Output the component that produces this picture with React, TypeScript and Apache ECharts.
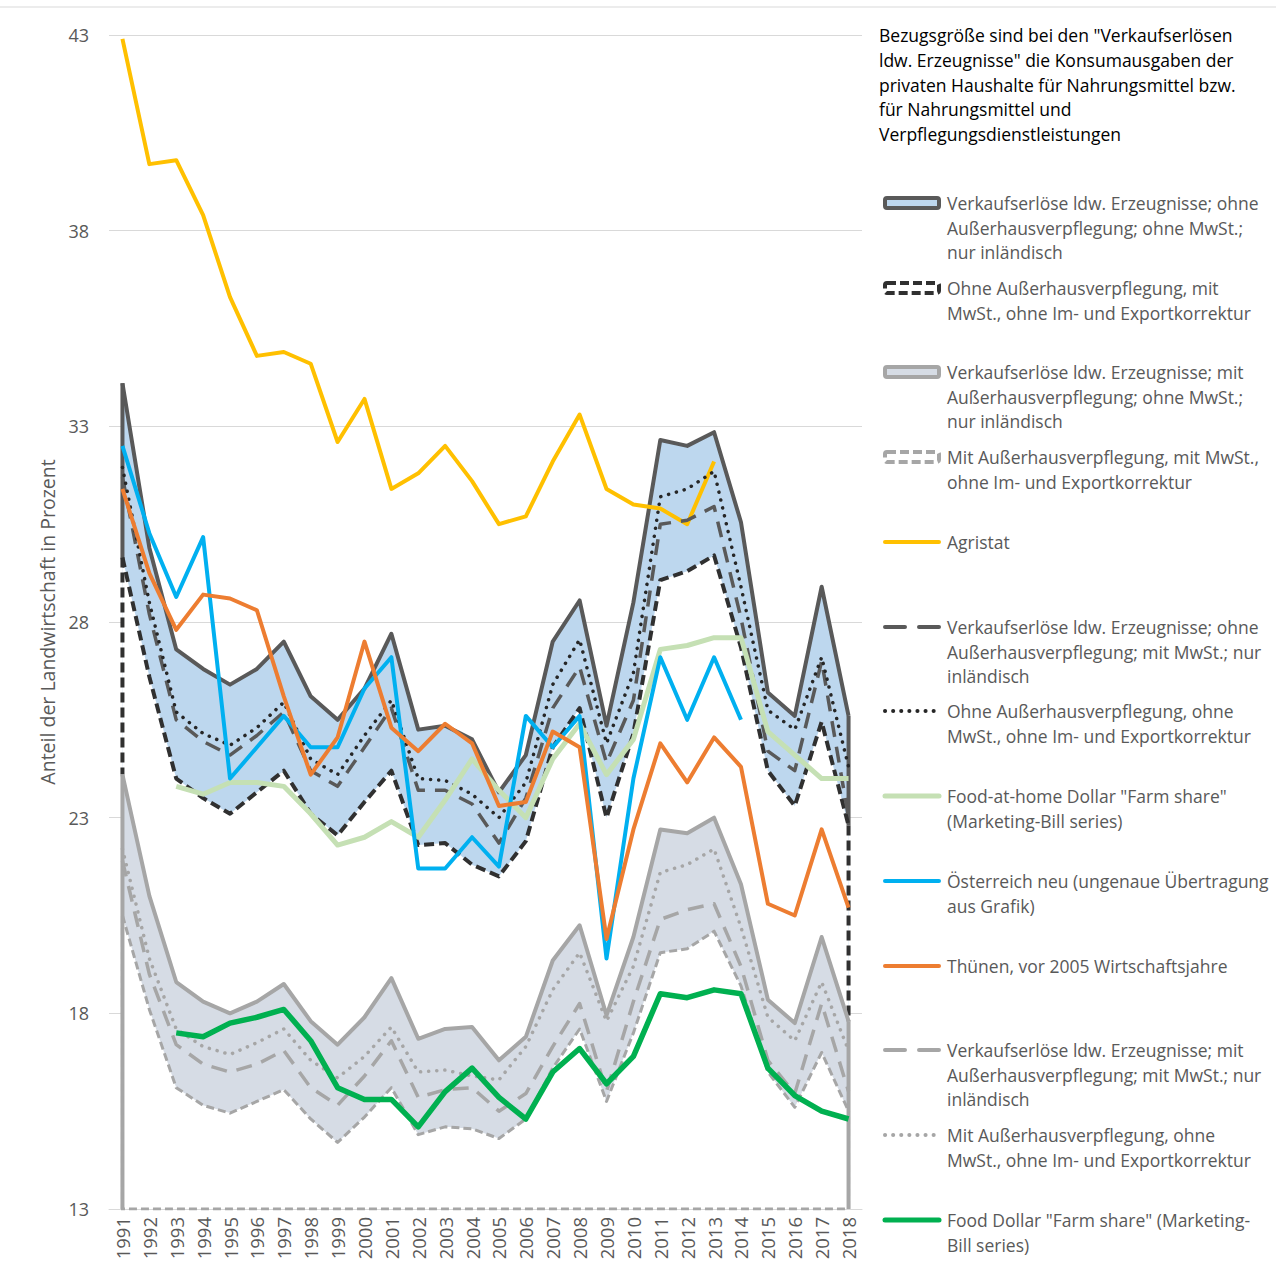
import React, { useEffect, useRef } from "react";
import * as echarts from "echarts";

const years = ["1991","1992","1993","1994","1995","1996","1997","1998","1999","2000","2001","2002","2003","2004","2005","2006","2007","2008","2009","2010","2011","2012","2013","2014","2015","2016","2017","2018"];

const yTicks = { min: 13, max: 43, step: 5 };

const darkTop = [34.1, 29.9, 27.3, 26.8, 26.4, 26.8, 27.5, 26.1, 25.5, 26.3, 27.7, 25.25, 25.35, 25.0, 23.65, 24.6, 27.5, 28.55, 25.35, 28.5, 32.65, 32.5, 32.85, 30.55, 26.2, 25.6, 28.9, 25.6];
const darkBottom = [29.65, 26.6, 24.0, 23.5, 23.1, 23.65, 24.2, 23.1, 22.55, 23.4, 24.2, 22.3, 22.35, 21.8, 21.5, 22.4, 24.8, 25.8, 23.0, 25.15, 29.07, 29.3, 29.7, 27.35, 24.2, 23.3, 25.45, 22.8];
const grayTop = [24.1, 21.0, 18.8, 18.3, 18.0, 18.3, 18.75, 17.8, 17.2, 17.9, 18.9, 17.35, 17.6, 17.65, 16.8, 17.4, 19.35, 20.25, 17.95, 19.95, 22.7, 22.6, 23.0, 21.3, 18.35, 17.75, 19.95, 17.8];
const grayBottom = [20.5, 18.1, 16.1, 15.65, 15.45, 15.75, 16.05, 15.3, 14.7, 15.35, 16.1, 14.9, 15.1, 15.05, 14.8, 15.3, 16.6, 17.6, 15.75, 17.5, 19.55, 19.65, 20.1, 18.7, 16.5, 15.6, 17.0, 15.5];

const agristat = [42.9, 39.7, 39.8, 38.4, 36.3, 34.8, 34.9, 34.6, 32.6, 33.7, 31.4, 31.8, 32.5, 31.6, 30.5, 30.7, 32.1, 33.3, 31.4, 31.0, 30.9, 30.5, 32.1, null, null, null, null, null];
const darkDash = [31.7, 28.2, 25.5, 24.95, 24.6, 25.1, 25.7, 24.2, 23.8, 24.8, 25.8, 23.7, 23.7, 23.35, 22.35, 23.5, 25.8, 26.85, 24.4, 26.0, 30.5, 30.6, 30.95, 28.1, 24.7, 24.2, 27.0, 23.0];
const darkDot = [31.95, 28.5, 25.7, 25.15, 24.85, 25.3, 25.95, 24.5, 24.1, 25.1, 26.0, 24.0, 23.95, 23.6, 23.0, 23.9, 26.4, 27.55, 24.9, 26.7, 31.2, 31.4, 31.85, 28.9, 25.75, 25.25, 27.1, 24.3];
const foodAtHome = [null, null, 23.8, 23.6, 23.9, 23.9, 23.8, 23.1, 22.3, 22.5, 22.9, 22.5, 23.45, 24.5, 23.7, 23.0, 24.5, 25.4, 24.1, 25.0, 27.3, 27.4, 27.6, 27.6, 25.2, 24.6, 24.0, 24.0];
const austria = [32.5, 30.27, 28.64, 30.17, 24.0, 24.8, 25.6, 24.8, 24.8, 26.3, 27.1, 21.7, 21.7, 22.5, 21.75, 25.6, 24.8, 25.6, 19.4, 24.0, 27.1, 25.5, 27.1, 25.5, null, null, null, null];
const thuenen = [31.4, 29.25, 27.8, 28.7, 28.6, 28.3, 26.1, 24.1, 25.05, 27.5, 25.3, 24.7, 25.4, 24.9, 23.3, 23.4, 25.2, 24.8, 19.9, 22.7, 24.9, 23.9, 25.05, 24.3, 20.8, 20.5, 22.7, 20.7];
const grayDash = [21.9, 19.0, 17.2, 16.7, 16.5, 16.7, 17.05, 16.1, 15.65, 16.4, 17.3, 15.85, 16.05, 16.1, 15.5, 15.95, 17.15, 18.25, 16.0, 18.3, 20.4, 20.65, 20.8, 19.2, 16.8, 15.95, 18.25, 16.0];
const grayDot = [22.2, 19.4, 17.6, 17.15, 16.95, 17.25, 17.6, 16.8, 16.35, 16.9, 17.65, 16.5, 16.55, 16.4, 16.3, 17.15, 18.6, 19.55, 17.8, 19.2, 21.6, 21.8, 22.2, 20.2, 17.9, 17.3, 18.8, 17.05];
const foodDollar = [null, null, 17.5, 17.4, 17.75, 17.9, 18.1, 17.3, 16.1, 15.8, 15.8, 15.1, 16.0, 16.6, 15.85, 15.3, 16.5, 17.1, 16.2, 16.9, 18.5, 18.4, 18.6, 18.5, 16.6, 15.9, 15.5, 15.3];

const noteLines = [
  'Bezugsgröße sind bei den "Verkaufserlösen',
  'ldw. Erzeugnisse" die Konsumausgaben der',
  'privaten Haushalte für Nahrungsmittel bzw.',
  'für Nahrungsmittel und',
  'Verpflegungsdienstleistungen',
];

const legendTexts = [
  ["Verkaufserlöse ldw. Erzeugnisse; ohne", "Außerhausverpflegung; ohne MwSt.;", "nur inländisch"],
  ["Ohne Außerhausverpflegung, mit", "MwSt., ohne Im- und Exportkorrektur"],
  ["Verkaufserlöse ldw. Erzeugnisse; mit", "Außerhausverpflegung; ohne MwSt.;", "nur inländisch"],
  ["Mit Außerhausverpflegung, mit MwSt.,", "ohne Im- und Exportkorrektur"],
  ["Agristat"],
  ["Verkaufserlöse ldw. Erzeugnisse; ohne", "Außerhausverpflegung; mit MwSt.; nur", "inländisch"],
  ["Ohne Außerhausverpflegung, ohne", "MwSt., ohne Im- und Exportkorrektur"],
  ['Food-at-home Dollar "Farm share"', "(Marketing-Bill series)"],
  ["Österreich neu (ungenaue Übertragung", "aus Grafik)"],
  ["Thünen, vor 2005 Wirtschaftsjahre"],
  ["Verkaufserlöse ldw. Erzeugnisse; mit", "Außerhausverpflegung; mit MwSt.; nur", "inländisch"],
  ["Mit Außerhausverpflegung, ohne", "MwSt., ohne Im- und Exportkorrektur"],
  ['Food Dollar "Farm share" (Marketing-', "Bill series)"],
];

const FONT = "Open Sans";
const C = {
  darkBorder: "#595959",
  darkFill: "#BDD7EE",
  darkDashed: "#303030",
  grayBorder: "#A6A6A6",
  grayFill: "#D6DCE5",
  agristat: "#FFC000",
  darkDash: "#595959",
  darkDot: "#262626",
  foodAtHome: "#C5E0B4",
  austria: "#00B0F0",
  thuenen: "#ED7D31",
  grayDash: "#A6A6A6",
  grayDot: "#A6A6A6",
  foodDollar: "#00B050",
  text: "#595959",
};

const DOT = [0.1, 8];
const LONGDASH = [16, 10];
const SHORTDASH = [10, 5];

function lineSeries(name: string, data: any[], color: string, width: number, type: any = "solid", extra: any = {}) {
  return {
    name,
    type: "line",
    data,
    symbol: "none",
    silent: true,
    connectNulls: false,
    lineStyle: { color, width, type, cap: Array.isArray(type) && type[0] < 1 ? "round" : "butt", join: "round" },
    ...extra,
  };
}

function edgeSeries(pts: any[], color: string, width: number, type: any = "solid") {
  return {
    type: "line",
    data: pts,
    symbol: "none",
    silent: true,
    lineStyle: { color, width, type, join: "miter" },
  };
}

const last = years.length - 1;
const base = yTicks.min;

function buildOption() {
  const series: any[] = [
    lineSeries("darkTop", darkTop, C.darkBorder, 4, "solid", { areaStyle: { color: C.darkFill, opacity: 1, origin: "start" } }),
    edgeSeries([[0, darkTop[0]], [0, darkBottom[0]]], C.darkBorder, 4),
    edgeSeries([[last, darkTop[last]], [last, darkBottom[last]]], C.darkBorder, 4),
    lineSeries("darkBottom", darkBottom, C.darkDashed, 4, SHORTDASH, { areaStyle: { color: "#FFFFFF", opacity: 1, origin: "start" } }),
    edgeSeries([[0, darkBottom[0]], [0, grayTop[0]]], C.darkDashed, 4, SHORTDASH),
    edgeSeries([[last, darkBottom[last]], [last, grayTop[last]]], C.darkDashed, 4, SHORTDASH),
    lineSeries("grayTop", grayTop, C.grayBorder, 4, "solid", { areaStyle: { color: C.grayFill, opacity: 1, origin: "start" } }),
    edgeSeries([[0, grayTop[0]], [0, base]], C.grayBorder, 4),
    edgeSeries([[last, grayTop[last]], [last, base]], C.grayBorder, 4),
    lineSeries("grayBottom", grayBottom, C.grayBorder, 3, [8, 4], { areaStyle: { color: "#FFFFFF", opacity: 1, origin: "start" } }),
    edgeSeries([[0, grayBottom[0]], [0, base], [last, base], [last, grayBottom[last]]], C.grayBorder, 3, [8, 4]),
    lineSeries("Agristat", agristat, C.agristat, 4),
    lineSeries("darkDash", darkDash, C.darkDash, 3.5, LONGDASH),
    lineSeries("darkDot", darkDot, C.darkDot, 3.5, DOT),
    lineSeries("foodAtHome", foodAtHome, C.foodAtHome, 5),
    lineSeries("austria", austria, C.austria, 4),
    lineSeries("thuenen", thuenen, C.thuenen, 4),
    lineSeries("grayDash", grayDash, C.grayDash, 3.5, LONGDASH),
    lineSeries("grayDot", grayDot, C.grayDot, 3.5, DOT),
    lineSeries("foodDollar", foodDollar, C.foodDollar, 5.5),
  ];

  const legendY = [203, 288, 372, 457, 542, 627, 711, 796, 881, 966, 1050, 1135, 1220];
  const LH = 24.5;
  const sx0 = 883, sx1 = 941, tx = 947;
  const symbols: any[] = [
    { kind: "rect", fill: C.darkFill, stroke: C.darkBorder, dash: null },
    { kind: "rect", fill: "#FFFFFF", stroke: C.darkDashed, dash: [9, 4] },
    { kind: "rect", fill: C.grayFill, stroke: C.grayBorder, dash: null },
    { kind: "rect", fill: "#FFFFFF", stroke: C.grayBorder, dash: [9, 4] },
    { kind: "line", stroke: C.agristat, width: 4, dash: null },
    { kind: "line", stroke: C.darkDash, width: 4, dash: [20, 14] },
    { kind: "line", stroke: C.darkDot, width: 4, dash: DOT },
    { kind: "line", stroke: C.foodAtHome, width: 5, dash: null },
    { kind: "line", stroke: C.austria, width: 4, dash: null },
    { kind: "line", stroke: C.thuenen, width: 4, dash: null },
    { kind: "line", stroke: C.grayDash, width: 4, dash: [20, 14] },
    { kind: "line", stroke: C.grayDot, width: 4, dash: DOT },
    { kind: "line", stroke: C.foodDollar, width: 5, dash: null },
  ];

  const TFONT = `17.5px "${FONT}"`;
  const graphic: any[] = [
    { type: "line", shape: { x1: 0, y1: 7, x2: 1276, y2: 7 }, style: { stroke: "#D9D9D9", lineWidth: 1 }, silent: true },
  ];

  noteLines.forEach((t, i) => {
    graphic.push({
      type: "text",
      x: 879,
      y: 35 + i * 24.8,
      silent: true,
      style: { text: t, fill: "#000000", font: TFONT, align: "left", verticalAlign: "middle", textAlign: "left", textVerticalAlign: "middle" },
    });
  });

  symbols.forEach((s, i) => {
    const y = legendY[i];
    if (s.kind === "rect") {
      graphic.push({
        type: "rect",
        shape: { x: sx0 + 2, y: y - 5, width: sx1 - sx0 - 4, height: 10, r: 2 },
        silent: true,
        style: { fill: s.fill, stroke: s.stroke, lineWidth: 4, lineDash: s.dash || undefined },
      });
    } else {
      graphic.push({
        type: "line",
        shape: { x1: sx0 + 2, y1: y, x2: sx1 - 2, y2: y },
        silent: true,
        style: { stroke: s.stroke, lineWidth: s.width, lineDash: s.dash || undefined, lineCap: "round" },
      });
    }
    legendTexts[i].forEach((t, j) => {
      graphic.push({
        type: "text",
        x: tx,
        y: y + j * LH,
        silent: true,
        style: { text: t, fill: C.text, font: TFONT, align: "left", verticalAlign: "middle", textAlign: "left", textVerticalAlign: "middle" },
      });
    });
  });

  return {
    animation: false,
    backgroundColor: "#FFFFFF",
    grid: { left: 109, right: 414, top: 35, bottom: 73, containLabel: false },
    xAxis: {
      type: "category",
      data: years,
      boundaryGap: true,
      axisLine: { lineStyle: { color: "#D9D9D9", width: 1 } },
      axisTick: { show: false },
      axisLabel: { rotate: 90, color: C.text, fontSize: 18.5, fontFamily: FONT, margin: 8, interval: 0 },
      splitLine: { show: false },
    },
    yAxis: {
      type: "value",
      min: yTicks.min,
      max: yTicks.max,
      interval: yTicks.step,
      axisLine: { show: false },
      axisTick: { show: false },
      splitLine: { lineStyle: { color: "#D9D9D9", width: 1 } },
      axisLabel: { color: C.text, fontSize: 18, fontFamily: FONT, margin: 20 },
      name: "Anteil der Landwirtschaft in Prozent",
      nameLocation: "middle",
      nameRotate: 90,
      nameGap: 52,
      nameTextStyle: { color: C.text, fontSize: 19.5, fontFamily: FONT },
    },
    series,
    graphic,
  };
}

export default function App() {
  const ref = useRef<HTMLDivElement>(null);
  useEffect(() => {
    if (!ref.current) return;
    const chart = echarts.init(ref.current, undefined, { renderer: "svg" });
    chart.setOption(buildOption() as any);
    return () => chart.dispose();
  }, []);
  return <div ref={ref} style={{ position: "absolute", left: 0, top: 0, width: 1276, height: 1282 }} />;
}
